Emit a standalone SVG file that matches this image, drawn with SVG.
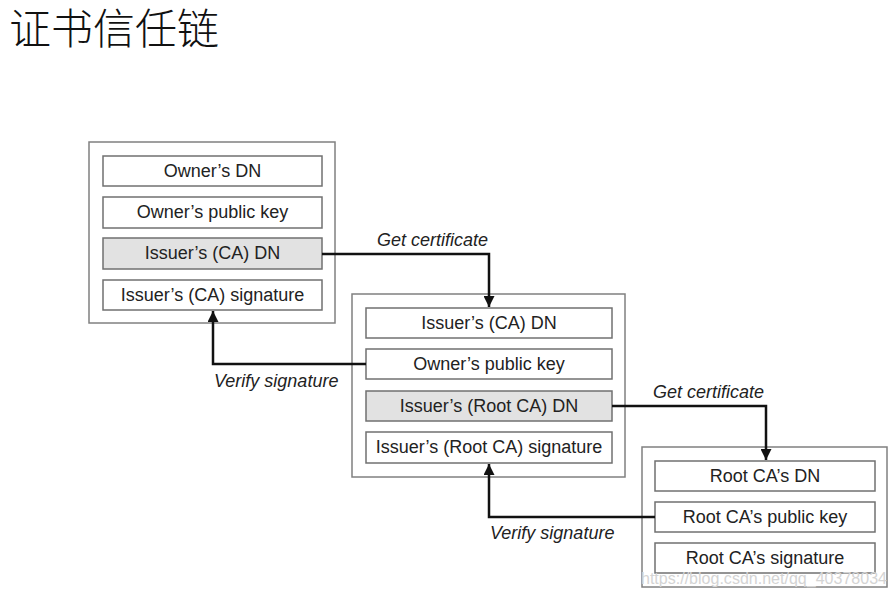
<svg xmlns="http://www.w3.org/2000/svg" width="896" height="595" viewBox="0 0 896 595">
<style>
.outer{fill:#fff;stroke:#808080;stroke-width:1.5}
.row{fill:#fff;stroke:#707070;stroke-width:1.5}
.row.hl{fill:#e2e2e2}
.t{font-family:"Liberation Sans",Arial,sans-serif;font-size:18px;fill:#222;text-anchor:middle}
.lbl{font-family:"Liberation Sans",Arial,sans-serif;font-size:18px;font-style:italic;fill:#222}
.conn{fill:none;stroke:#111;stroke-width:2.5}
.title{font-family:"Noto Sans CJK SC","Noto Sans",sans-serif;font-size:42px;font-weight:300;fill:#111}
</style>
<defs>
<marker id="ah" viewBox="0 0 10 10" refX="10" refY="5" markerWidth="4.4" markerHeight="4.4" markerUnits="strokeWidth" orient="auto">
<path d="M0,0 L10,5 L0,10 z" fill="#111"/>
</marker>
</defs>
<rect width="896" height="595" fill="#fff"/>
<text class="title" x="9" y="44">证书信任链</text>

<g id="cert1">
<rect class="outer" x="89" y="142" width="246" height="181"/>
<rect class="row" x="103" y="156" width="219" height="30"/>
<text class="t" x="212.5" y="177">Owner’s DN</text>
<rect class="row" x="103" y="197" width="219" height="31"/>
<text class="t" x="212.5" y="218">Owner’s public key</text>
<rect class="row hl" x="103" y="238" width="219" height="31"/>
<text class="t" x="212.5" y="259">Issuer’s (CA) DN</text>
<rect class="row" x="103" y="280" width="219" height="30"/>
<text class="t" x="212.5" y="301">Issuer’s (CA) signature</text>
</g>

<g id="cert2">
<rect class="outer" x="352" y="294" width="273" height="183"/>
<rect class="row" x="366" y="308" width="246" height="30"/>
<text class="t" x="489" y="329">Issuer’s (CA) DN</text>
<rect class="row" x="366" y="349" width="246" height="30"/>
<text class="t" x="489" y="370">Owner’s public key</text>
<rect class="row hl" x="366" y="391" width="246" height="30"/>
<text class="t" x="489" y="412">Issuer’s (Root CA) DN</text>
<rect class="row" x="366" y="432" width="246" height="31"/>
<text class="t" x="489" y="453">Issuer’s (Root CA) signature</text>
</g>

<g id="cert3">
<rect class="outer" x="642" y="447" width="245" height="140"/>
<rect class="row" x="655" y="461" width="220" height="30"/>
<text class="t" x="765" y="482">Root CA’s DN</text>
<rect class="row" x="655" y="502" width="220" height="30"/>
<text class="t" x="765" y="523">Root CA’s public key</text>
<rect class="row" x="655" y="543" width="220" height="30"/>
<text class="t" x="765" y="564">Root CA’s signature</text>
</g>

<g id="connectors">
<path class="conn" d="M322,254 H489 V307" marker-end="url(#ah)"/>
<path class="conn" d="M366,364 H213 V311" marker-end="url(#ah)"/>
<path class="conn" d="M612,406 H766 V460" marker-end="url(#ah)"/>
<path class="conn" d="M655,517 H489 V464" marker-end="url(#ah)"/>
<text class="lbl" x="377" y="246">Get certificate</text>
<text class="lbl" x="214" y="387">Verify signature</text>
<text class="lbl" x="653" y="398">Get certificate</text>
<text class="lbl" x="490" y="539">Verify signature</text>
</g>

<text x="641" y="584" font-family="'Liberation Sans',Arial,sans-serif" font-size="17" fill="#d4d4d4" textLength="246" lengthAdjust="spacingAndGlyphs">https://blog.csdn.net/qq_40378034</text>
</svg>
